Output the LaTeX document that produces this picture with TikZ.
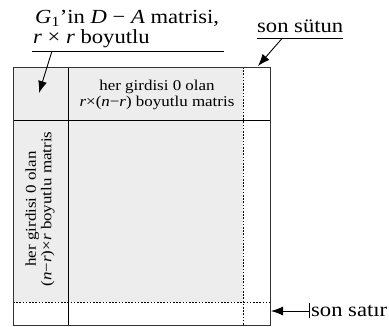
\documentclass[tikz,border=0pt]{standalone}
\usepackage{fontspec}
\setmainfont{Liberation Serif}
\newfontfamily\labelfont[FakeStretch=1.13]{Liberation Serif}
\newfontfamily\cellfont[FakeStretch=1.13]{Liberation Serif}
\usetikzlibrary{arrows.meta}
\definecolor{cellgray}{HTML}{EDEDED}
\definecolor{edge}{HTML}{333333}
\tikzset{
  bigtxt/.style={font=\labelfont\fontsize{20}{20}\selectfont, inner sep=0pt},
  smalltxt/.style={font=\cellfont\fontsize{15}{15.5}\selectfont, align=center, inner sep=0pt},
  dotline/.style={draw=black, line width=0.9pt, dash pattern=on 1.6pt off 1.6pt},
  solidline/.style={draw=black, line width=0.9pt},
  pointer/.style={draw=black, line width=0.9pt, -{Latex[length=12pt,width=9pt]}},
}
\begin{document}
\begin{tikzpicture}[x=1pt,y=-1pt]
\useasboundingbox (0,0) rectangle (389,327);
% gray region
\fill[cellgray] (13,67) rectangle (243,302);
% inner lines
\draw[dotline] (243,67) -- (243,325);
\draw[dotline] (13,302) -- (270,302);
\draw[solidline] (68,67) -- (68,325);
\draw[solidline] (13,120) -- (270,120);
% outer box
\node[draw=edge, line width=1.3pt, minimum width=257pt, minimum height=258pt, inner sep=0pt, anchor=north west] (box) at (13,67) {};
% inner texts
\node[smalltxt] (top) at (157,95) {her girdisi 0 olan\\\textit{r}×(\textit{n}−\textit{r}) boyutlu matris};
\node[smalltxt, rotate=90] (left) at (40,209) {her girdisi 0 olan\\(\textit{n}−\textit{r})×\textit{r} boyutlu matris};
% top-left label
\node[bigtxt, anchor=base west] (l1) at (35,23) {\textit{G}\textsubscript{1}’in \textit{D} − \textit{A} matrisi,};
\node[bigtxt, anchor=base west] (l2) at (33,43) {\textit{r} × \textit{r} boyutlu};
\coordinate (ul1a) at (32,51);
\coordinate (ul1b) at (224,51);
\draw[solidline] (ul1a) -- (ul1b);
\coordinate (p1s) at (52,51);
\coordinate (p1e) at (39,93);
\draw[pointer] (p1s) -- (p1e);
% son sutun
\node[bigtxt, anchor=base west] (sc) at (257,32) {son sütun};
\coordinate (ul2a) at (257,38.5);
\coordinate (ul2b) at (343,38.5);
\draw[solidline] (ul2a) -- (ul2b);
\coordinate (p2s) at (282,38.5);
\coordinate (p2e) at (258,66);
\draw[pointer] (p2s) -- (p2e);
% son satir
\node[bigtxt, anchor=base west] (sr) at (311,316) {son satır};
\coordinate (tk1) at (309.5,303);
\coordinate (tk2) at (309.5,318);
\draw[solidline] (tk1) -- (tk2);
\coordinate (p3s) at (309.5,311);
\coordinate (p3e) at (271,311);
\draw[pointer] (p3s) -- (p3e);
\end{tikzpicture}
\end{document}
